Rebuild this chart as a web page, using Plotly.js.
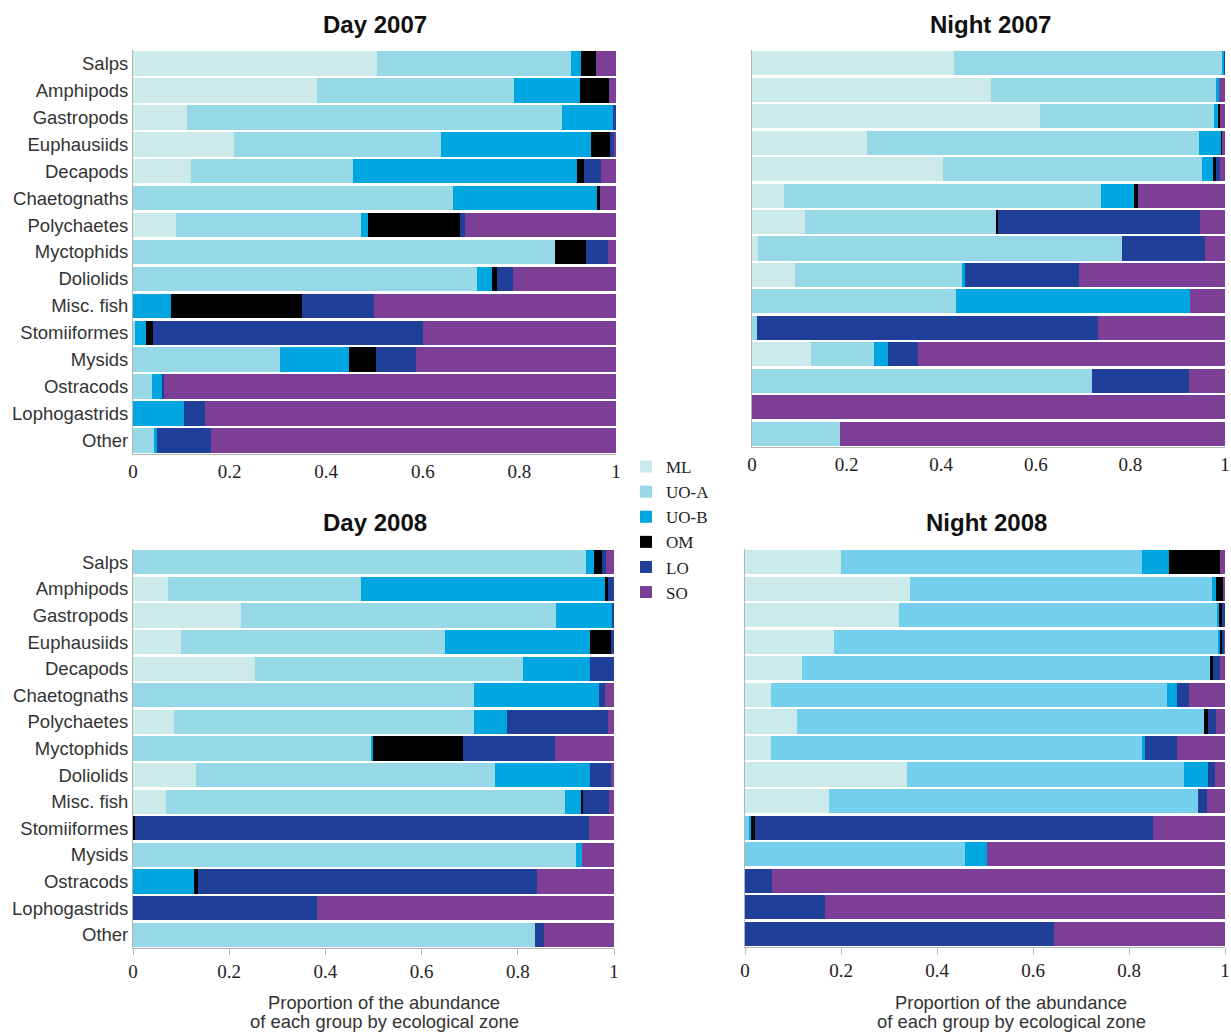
<!DOCTYPE html>
<html>
<head>
<meta charset="utf-8">
<script src="https://cdn.plot.ly/plotly-3.0.1.min.js"></script>
<style>html,body{margin:0;padding:0;background:#fff;}</style>
</head>
<body>
<div id="chart" style="width:1231px;height:1033px;"></div>
<script>
var categories = ["Salps","Amphipods","Gastropods","Euphausiids","Decapods","Chaetognaths","Polychaetes","Myctophids","Doliolids","Misc. fish","Stomiiformes","Mysids","Ostracods","Lophogastrids","Other"];
var zones = ["ML","UO-A","UO-B","OM","LO","SO"];
var xTickVals = [0,0.2,0.4,0.6,0.8,1];
var xTickText = ["0","0.2","0.4","0.6","0.8","1"];

// Day 2007
var day2007_ML  = [0.505,0.380,0.112,0.209,0.120,0,0.088,0,0,0,0,0,0,0,0];
var day2007_UOA = [0.402,0.409,0.776,0.429,0.335,0.663,0.384,0.873,0.713,0,0.004,0.305,0.040,0,0.043];
var day2007_UOB = [0.021,0.136,0.106,0.310,0.465,0.298,0.014,0,0.031,0.078,0.023,0.143,0.021,0.106,0.007];
var day2007_OM  = [0.030,0.061,0,0.040,0.014,0.006,0.190,0.064,0.009,0.271,0.015,0.056,0,0,0];
var day2007_LO  = [0,0,0.006,0.008,0.035,0,0.012,0.046,0.034,0.149,0.558,0.082,0.004,0.044,0.111];
var day2007_SO  = [0.042,0.014,0,0.004,0.031,0.033,0.312,0.017,0.213,0.502,0.400,0.414,0.935,0.850,0.839];

// Night 2007
var night2007_ML  = [0.426,0.506,0.609,0.244,0.404,0.067,0.112,0.013,0.090,0,0,0.125,0,0,0];
var night2007_UOA = [0.568,0.474,0.368,0.701,0.548,0.671,0.404,0.769,0.354,0.431,0.010,0.132,0.718,0,0.185];
var night2007_UOB = [0.003,0.007,0.008,0.046,0.022,0.070,0,0,0.007,0.494,0,0.031,0,0,0];
var night2007_OM  = [0,0,0.005,0.003,0.006,0.008,0.004,0,0,0,0,0,0,0,0];
var night2007_LO  = [0.003,0,0,0,0.010,0,0.427,0.176,0.241,0,0.721,0.062,0.206,0,0];
var night2007_SO  = [0,0.013,0.010,0.006,0.010,0.184,0.053,0.042,0.308,0.075,0.269,0.650,0.076,1.0,0.815];

// Day 2008
var day2008_ML  = [0,0.072,0.224,0.100,0.254,0,0.085,0,0.130,0.068,0,0,0,0,0];
var day2008_UOA = [0.941,0.402,0.656,0.548,0.557,0.709,0.624,0.495,0.622,0.831,0,0.920,0,0,0.835];
var day2008_UOB = [0.017,0.507,0.115,0.302,0.139,0.260,0.069,0.003,0.198,0.033,0,0.014,0.127,0,0];
var day2008_OM  = [0.017,0.006,0,0.044,0,0,0,0.188,0,0.003,0.004,0,0.008,0,0];
var day2008_LO  = [0.008,0.013,0.005,0.006,0.050,0.012,0.210,0.191,0.044,0.054,0.944,0,0.705,0.382,0.020];
var day2008_SO  = [0.017,0,0,0,0,0.019,0.012,0.123,0.006,0.011,0.052,0.066,0.160,0.618,0.145];

// Night 2008
var night2008_ML  = [0.201,0.344,0.320,0.185,0.118,0.054,0.108,0.054,0.338,0.174,0,0,0,0,0];
var night2008_UOA = [0.627,0.629,0.663,0.800,0.851,0.826,0.848,0.774,0.577,0.770,0.008,0.458,0,0,0];
var night2008_UOB = [0.056,0.008,0.005,0.005,0,0.020,0,0.005,0.050,0,0.004,0.046,0,0,0];
var night2008_OM  = [0.106,0.015,0.005,0.003,0.006,0,0.008,0,0,0,0.009,0,0,0,0];
var night2008_LO  = [0,0,0.007,0.004,0.014,0.025,0.018,0.067,0.014,0.019,0.828,0,0.056,0.166,0.643];
var night2008_SO  = [0.010,0.004,0,0.003,0.011,0.075,0.018,0.100,0.021,0.037,0.151,0.496,0.944,0.834,0.357];

var colors = {"ML":"#cdeaea","UO-A":"#97d8e6","UO-B":"#00a6e0","OM":"#000000","LO":"#1f3f99","SO":"#7d3f95"};
var uoaNight2008Color = "#74cfec";

var panels = [
  {x:"x",  y:"y",  data:[day2007_ML,day2007_UOA,day2007_UOB,day2007_OM,day2007_LO,day2007_SO], legend:true},
  {x:"x2", y:"y2", data:[night2007_ML,night2007_UOA,night2007_UOB,night2007_OM,night2007_LO,night2007_SO], legend:false},
  {x:"x3", y:"y3", data:[day2008_ML,day2008_UOA,day2008_UOB,day2008_OM,day2008_LO,day2008_SO], legend:false},
  {x:"x4", y:"y4", data:[night2008_ML,night2008_UOA,night2008_UOB,night2008_OM,night2008_LO,night2008_SO], legend:false, uoa:uoaNight2008Color}
];

var traces = [];
panels.forEach(function(p){
  zones.forEach(function(z,i){
    var c = colors[z];
    if (z === "UO-A" && p.uoa) c = p.uoa;
    traces.push({
      type:"bar", orientation:"h",
      x:p.data[i], y:categories,
      name:z, showlegend:p.legend,
      xaxis:p.x, yaxis:p.y,
      marker:{color:c, line:{width:0}},
      hoverinfo:"x+y+name"
    });
  });
});

var W = 1231, H = 1033;
function dx(a,b){return [a/W, b/W];}
function dy(top,bottom){return [1-bottom/H, 1-top/H];}

var tickFontSerif = {family:"Liberation Serif, Times New Roman, serif", size:19, color:"#222"};
var yTickFont = {family:"Liberation Sans, Arial, sans-serif", size:18.5, color:"#333"};

function xax(domain, anchor, ticks){
  return {domain:domain, anchor:anchor, range:[0,1], tickvals:xTickVals, ticktext:xTickText,
    tickfont:tickFontSerif, showgrid:false, zeroline:false, showline:true, linecolor:"#b5b5b5", linewidth:1,
    ticks:ticks, ticklen:6, tickcolor:"#b5b5b5", automargin:false, fixedrange:true, ticklabeloverflow:"allow"};
}
function yax(domain, anchor, showLabels){
  return {domain:domain, anchor:anchor, type:"category", autorange:"reversed",
    showticklabels:showLabels, tickfont:yTickFont, showgrid:false, zeroline:false,
    showline:true, linecolor:"#b5b5b5", linewidth:1, ticks:"", automargin:false, fixedrange:true, ticklabeloverflow:"allow"};
}

var titleFont = {family:"Liberation Sans, Arial, sans-serif", size:24, color:"#111"};
var axTitleFont = {family:"Liberation Sans, Arial, sans-serif", size:18.4, color:"#333"};

function ann(text, xpx, ypx, font){
  return {text:text, xref:"paper", yref:"paper", x:xpx/W, y:1-ypx/H, showarrow:false, font:font, xanchor:"center", yanchor:"middle"};
}

var layout = {
  width:W, height:H,
  margin:{l:0,r:0,t:0,b:0},
  paper_bgcolor:"#fff", plot_bgcolor:"#fff",
  barmode:"stack", bargap:0.09,
  showlegend:true,
  legend:{x:626/W, y:1-449/H, xanchor:"left", yanchor:"top", font:{family:"Liberation Serif, Times New Roman, serif", size:17, color:"#222"},
          itemwidth:30, tracegroupgap:0, bgcolor:"rgba(0,0,0,0)", traceorder:"normal"},
  xaxis: xax(dx(133,616),"y",""),
  yaxis: yax(dy(50,454),"x",true),
  xaxis2: xax(dx(752,1225),"y2",""),
  yaxis2: yax(dy(50,447),"x2",false),
  xaxis3: xax(dx(133,614),"y3","outside"),
  yaxis3: yax(dy(549,948),"x3",true),
  xaxis4: xax(dx(745,1225),"y4","outside"),
  yaxis4: yax(dy(549,947),"x4",false),
  annotations:[
    ann("<b>Day 2007</b>", 374.5, 25, titleFont),
    ann("<b>Night 2007</b>", 990, 25, titleFont),
    ann("<b>Day 2008</b>", 374.5, 522, titleFont),
    ann("<b>Night 2008</b>", 986, 522, titleFont),
    ann("Proportion of the abundance", 384, 1002, axTitleFont),
    ann("of each group by ecological zone", 384, 1021, axTitleFont),
    ann("Proportion of the abundance", 1011, 1002, axTitleFont),
    ann("of each group by ecological zone", 1011, 1021, axTitleFont)
  ]
};

Plotly.newPlot("chart", traces, layout, {displayModeBar:false, staticPlot:true});
</script>
</body>
</html>
